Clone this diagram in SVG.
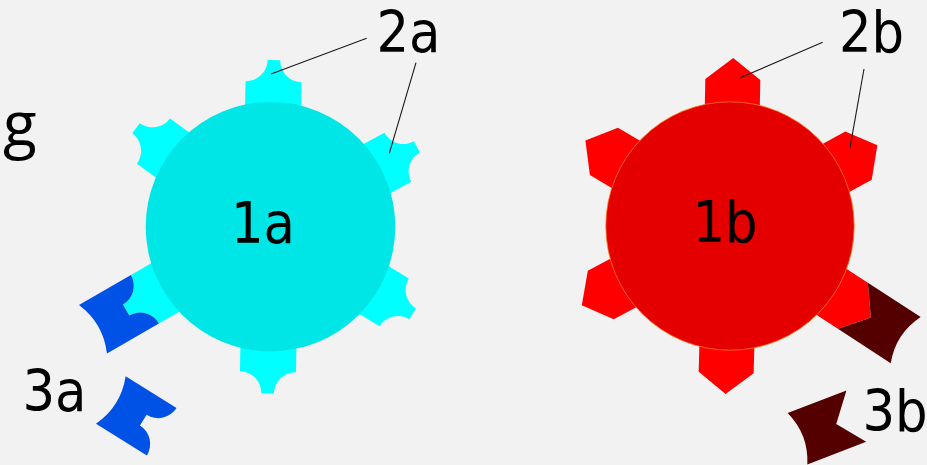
<svg xmlns="http://www.w3.org/2000/svg" width="927" height="465" viewBox="0 0 927 465">
  <defs>
    <style>
      .lbl { font-family: "DejaVu Sans Condensed", "DejaVu Sans", sans-serif; font-stretch: condensed; font-size: 57px; fill: #000; }
      .cyan-tab { fill: #00ffff; }
      .red-tab { fill: #ff0000; }
      .key-a { fill: #0052e6; }
      .key-b { fill: #550000; }
      .leader { stroke: #1a1a1a; stroke-width: 1.1; fill: none; }
    </style>
    <!-- tab with a neck and two concave fillets, pointing up from its base line -->
    <path id="tabA" d="M-28 40 L-28 0 A21.7 21.7 0 0 0 -6.3 -21.7 L6.3 -21.7 A21.7 21.7 0 0 0 28 0 L28 40 Z"/>
    <!-- matching key: inner side follows the tab outline, outer side concave -->
    <path id="keyA" d="M-28 0 A21.7 21.7 0 0 0 -6.3 -21.7 L6.3 -21.7 A21.7 21.7 0 0 0 28 0 L28 -60 Q0 -48 -28 -60 Z"/>
    <!-- pointed tab, pointing up from its base line -->
    <path id="tabB" d="M-27.5 40 L-27.5 0 L0 -21.5 L27.5 0 L27.5 40 Z"/>
    <!-- matching key with a V notch -->
    <path id="keyB" d="M-27.5 0 L0 -21.5 L27.5 0 L27.5 -63 Q0 -51 -27.5 -63 Z"/>
  </defs>

  <rect width="927" height="465" fill="#f2f2f2"/>

  <!-- left gear: tabs 2a, body 1a -->
  <g id="tabs-2a" class="cyan-tab">
    <use href="#tabA" transform="translate(270.5 226.7) rotate(1.2) translate(0 -145)"/>
    <use href="#tabA" transform="translate(270.5 226.7) rotate(61.4) translate(0 -145)"/>
    <use href="#tabA" transform="translate(270.5 226.7) rotate(121.5) translate(0 -145)"/>
    <use href="#tabA" transform="translate(270.5 226.7) rotate(181) translate(0 -145)"/>
    <use href="#tabA" transform="translate(270.5 226.7) rotate(240) translate(0 -145)"/>
    <use href="#tabA" transform="translate(270.5 226.7) rotate(306.2) translate(0 -145)"/>
  </g>
  <g id="gear-1a">
    <circle cx="270.5" cy="226.7" r="124.8" fill="#00e6e6"/>
    <text class="lbl" x="231" y="242.7">1a</text>
  </g>

  <!-- right gear: tabs 2b, body 1b -->
  <g id="tabs-2b" class="red-tab">
    <use href="#tabB" transform="translate(730 226) rotate(1.1) translate(0 -146.5)"/>
    <use href="#tabB" transform="translate(730 226) rotate(61.3) translate(0 -146.5)"/>
    <use href="#tabB" transform="translate(730 226) rotate(123) translate(0 -146.5)"/>
    <use href="#tabB" transform="translate(730 226) rotate(181.5) translate(0 -146.5)"/>
    <use href="#tabB" transform="translate(730 226) rotate(241.9) translate(0 -146.5)"/>
    <use href="#tabB" transform="translate(730 226) rotate(300.6) translate(0 -146.5)"/>
  </g>
  <g id="gear-1b">
    <circle cx="730" cy="226" r="124.2" fill="#e50000" stroke="#ff7a1a" stroke-width="0.8"/>
    <text class="lbl" x="692.5" y="241.7">1b</text>
  </g>

  <!-- keys 3a -->
  <g id="key-3a-fitted" class="key-a">
    <use href="#keyA" transform="translate(270.5 226.7) rotate(240) translate(0 -145)"/>
  </g>
  <g id="key-3a-loose" class="key-a">
    <use href="#keyA" transform="translate(161.7 431.7) rotate(-58)"/>
  </g>

  <!-- keys 3b -->
  <g id="key-3b-fitted" class="key-b">
    <use href="#keyB" transform="translate(730 226) rotate(123) translate(0 -146.5)"/>
  </g>
  <g id="key-3b-loose" class="key-b">
    <use href="#keyB" transform="translate(856.3 416.2) rotate(249)"/>
  </g>

  <!-- leader lines -->
  <g id="connectors" class="leader">
    <line x1="366.7" y1="38.3" x2="271" y2="74"/>
    <line x1="416" y1="62.7" x2="389.3" y2="153.3"/>
    <line x1="822.7" y1="42.3" x2="739" y2="78.3"/>
    <line x1="864" y1="69" x2="850" y2="147.7"/>
  </g>

  <!-- labels -->
  <g id="label-2a"><text class="lbl" x="376.5" y="51.7">2a</text></g>
  <g id="label-2b"><text class="lbl" x="839" y="51.7">2b</text></g>
  <g id="label-3a"><text class="lbl" x="22.5" y="410.7">3a</text></g>
  <g id="label-3b"><text class="lbl" x="862.5" y="431">3b</text></g>
  <g id="label-g"><text x="3" y="146" font-family="'Open Sans', 'Noto Sans', sans-serif" font-size="62" fill="#000">g</text></g>
</svg>
